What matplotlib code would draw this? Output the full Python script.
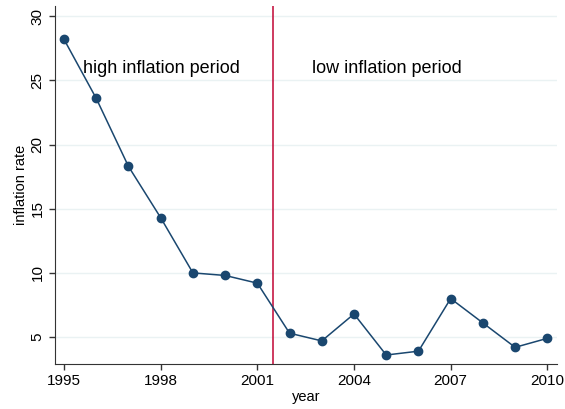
import matplotlib
matplotlib.use("Agg")
import matplotlib.pyplot as plt

years = [1995, 1996, 1997, 1998, 1999, 2000, 2001, 2002, 2003, 2004, 2005, 2006, 2007, 2008, 2009, 2010]
inflation = [28.2, 23.6, 18.3, 14.3, 10.0, 9.8, 9.2, 5.3, 4.7, 6.8, 3.6, 3.9, 8.0, 6.1, 4.2, 4.9]
xticks = [1995, 1998, 2001, 2004, 2007, 2010]
yticks = [5, 10, 15, 20, 25, 30]
break_year = 2001.5

plt.rcParams['font.family'] = ['Liberation Sans', 'DejaVu Sans']

fig = plt.figure(figsize=(5.65, 4.09), dpi=100)
ax = fig.add_axes([55/565, 45/409, 502/565, 358/409])

for y in yticks:
    ax.axhline(y, color='#eaf2f3', lw=1.0, zorder=0)

ax.plot(years, inflation, color='#1a476f', lw=1.1, marker='o', ms=6, zorder=3)
ax.axvline(break_year, color='#c10534', lw=1.1, zorder=2)

ax.text(1995.6, 25.9, 'high inflation period', fontsize=13, va='center', ha='left')
ax.text(2002.7, 25.9, 'low inflation period', fontsize=13, va='center', ha='left')

ax.set_xlim(1994.72, 2010.3)
ax.set_ylim(2.9, 30.8)
ax.set_xticks(xticks)
ax.set_yticks(yticks)
ax.tick_params(axis='both', labelsize=11, length=4, width=1, direction='out', color='#333333')
for lab in ax.get_yticklabels():
    lab.set_rotation(90)
    lab.set_va('center')
ax.spines['top'].set_visible(False)
ax.spines['right'].set_visible(False)
ax.spines['left'].set_color('#333333')
ax.spines['bottom'].set_color('#333333')
ax.set_xlabel('year', fontsize=10.5, labelpad=1)
ax.set_ylabel('inflation rate', fontsize=10.5, labelpad=2)

fig.savefig('out.png', dpi=100)
